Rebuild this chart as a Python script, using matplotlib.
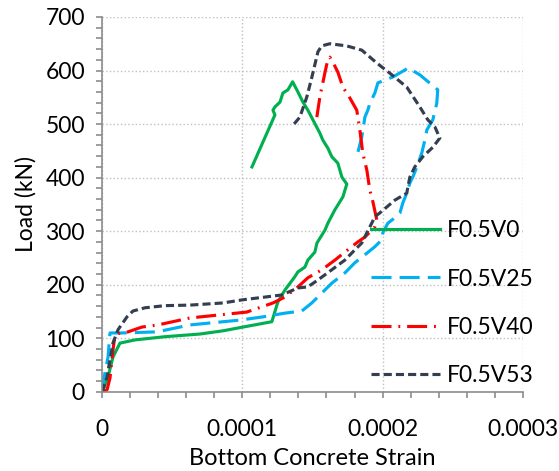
import numpy as np
from matplotlib import pyplot as plt
from matplotlib.ticker import MultipleLocator, FixedLocator, FixedFormatter

plt.rcParams['font.family'] = ['Lato', 'DejaVu Sans']

# strain values read in microstrain, load in kN
v0_strain = [0, 4.1, 7.6, 12.6, 23.3, 44.7, 69.7, 86.1, 100.4, 121.0, 125.3, 130.3,
             137.4, 139.6, 144.6, 146.7, 151.7, 153.2, 158.9, 161.0, 166.0, 171.7,
             174.5, 171.0, 168.1, 163.8, 161.0, 157.4, 155.3, 150.3, 146.7, 143.2,
             139.6, 135.8, 132.5, 128.9, 126.8, 123.2, 121.8, 123.2, 106.8]
v0_load = [0, 28, 65, 91, 97, 103, 108, 114, 121, 131, 168, 190,
           215, 224, 233, 246, 261, 278, 302, 315, 340, 364,
           388, 401, 427, 439, 455, 470, 483, 508, 526, 541,
           560, 579, 564, 558, 541, 532, 526, 517, 420]

v25_strain = [0, 0.5, 1.9, 4.1, 4.8, 5.5, 14.1, 39.0, 62.6, 98.2, 114.6, 130.3, 142.4,
              149.5, 163.8, 173.1, 180.2, 187.4, 194.5, 199.5, 200.2, 203.8, 208.8,
              212.4, 214.5, 217.3, 219.5, 221.6, 224.5, 228.0, 230.2, 231.6, 235.9,
              238.7, 239.4, 226.6, 218.1, 216.0, 207.4, 196.7, 194.5, 191.0, 189.5,
              187.4, 185.2, 181.6]
v25_load = [0, 17, 35, 65, 88, 110, 110, 112, 125, 134, 140, 147, 151,
            166, 203, 222, 241, 256, 271, 284, 297, 315, 325,
            334, 353, 371, 390, 401, 420, 446, 470, 489, 508,
            539, 564, 592, 605, 601, 588, 577, 558, 539, 526,
            513, 476, 439]

v40_strain = [1.2, 3.4, 5.5, 7.6, 9.1, 12.6, 18.3, 28.3, 39.7, 62.6, 103.1, 121.8,
              130.3, 139.6, 146.7, 156.7, 166.0, 173.1, 182.4, 187.4, 194.5, 195.9,
              193.1, 190.9, 188.8, 185.9, 183.8, 182.4, 181.6, 176.6, 171.7, 168.1,
              164.5, 162.4, 160.9, 158.8, 155.3, 153.1]
v40_load = [0, 4, 26, 78, 106, 110, 112, 121, 125, 138, 149, 166,
            177, 196, 213, 228, 246, 261, 280, 289, 308, 321,
            355, 377, 414, 446, 489, 513, 526, 549, 569, 597,
            616, 625, 620, 595, 551, 513]

v53_strain = [0, 3.4, 5.5, 7.6, 11.2, 17.6, 21.9, 30.5, 44.7, 62.6, 86.1, 100.4,
              116.1, 128.2, 139.6, 146.7, 153.9, 163.8, 173.1, 180.2, 185.2, 188.8,
              192.3, 194.5, 198.0, 208.8, 217.3, 218.1, 219.5, 223.0, 228.7, 236.0,
              240.9, 237.3, 232.3, 226.6, 217.3, 205.2, 195.9, 185.2, 174.4, 162.4,
              156.6, 153.9, 149.6, 146.0, 141.0, 135.2]
v53_load = [0, 28, 60, 91, 116, 140, 151, 157, 161, 162, 166, 172,
            177, 181, 194, 196, 209, 228, 246, 265, 278, 297,
            315, 327, 334, 358, 371, 383, 401, 420, 439, 457,
            474, 495, 508, 532, 569, 595, 614, 638, 646, 650,
            646, 635, 588, 551, 513, 495]

labels = ['F0.5V0', 'F0.5V25', 'F0.5V40', 'F0.5V53']
x_ticks = [0, 0.0001, 0.0002, 0.0003]
x_tick_labels = ['0', '0.0001', '0.0002', '0.0003']

fig = plt.figure(figsize=(5.59, 4.71), dpi=100)
ax = fig.add_axes([0.183, 0.168, 0.752, 0.796])

lw = 2.25
ax.plot(np.array(v0_strain) * 1e-6, v0_load, color='#00B050', lw=lw, label=labels[0])
ax.plot(np.array(v25_strain) * 1e-6, v25_load, color='#00B0F0', lw=lw,
        dashes=(6.4, 2.6), label=labels[1])
ax.plot(np.array(v40_strain) * 1e-6, v40_load, color='#FF0000', lw=lw,
        dashes=(6.4, 2.2, 0.6, 2.2), label=labels[2])
ax.plot(np.array(v53_strain) * 1e-6, v53_load, color='#333F50', lw=lw,
        dashes=(2.6, 1.3), label=labels[3])

ax.set_xlim(0, 0.0003)
ax.set_ylim(0, 700)
ax.xaxis.set_major_locator(FixedLocator(x_ticks))
ax.xaxis.set_major_formatter(FixedFormatter(x_tick_labels))
ax.xaxis.set_minor_locator(MultipleLocator(0.00002))
ax.yaxis.set_major_locator(MultipleLocator(100))
ax.yaxis.set_minor_locator(MultipleLocator(20))

ax.grid(True, which='major', color='#BFBFBF', linestyle=':', linewidth=1)
for s in ['top', 'right']:
    ax.spines[s].set_visible(False)
for s in ['left', 'bottom']:
    ax.spines[s].set_color('#8C8C8C')
    ax.spines[s].set_linewidth(1.2)
ax.tick_params(which='both', direction='out', color='#8C8C8C', width=1.2, length=4.5)
ax.tick_params(axis='x', which='major', pad=15, labelsize=16.5)
ax.tick_params(axis='y', which='major', pad=8, labelsize=16.5)

ax.set_xlabel('Bottom Concrete Strain', fontsize=17, labelpad=6)
ax.set_ylabel('Load (kN)', fontsize=16.5, labelpad=6)

ax.legend(loc='upper left', bbox_to_anchor=(371 / 559, 1 - 220 / 471),
          bbox_transform=fig.transFigure, frameon=False, fontsize=16.5,
          handlelength=3.0, handletextpad=0.3, labelspacing=1.2,
          borderpad=0, borderaxespad=0)

fig.savefig('out.png', dpi=100)
